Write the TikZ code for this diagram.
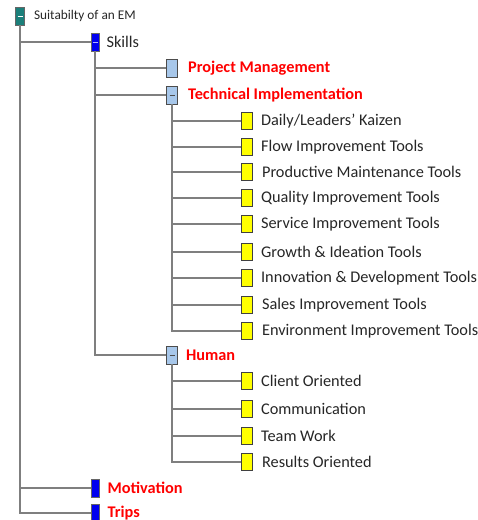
\documentclass[tikz,border=0pt]{standalone}
\usepackage{fontspec}
\setmainfont{Carlito}
\usepackage{tikz}

\definecolor{tealbox}{HTML}{1B7F7A}
\definecolor{bluebox}{HTML}{0000F0}
\definecolor{paleblue}{HTML}{A7C7EA}
\definecolor{yellowbox}{HTML}{FFFF00}
\definecolor{wire}{HTML}{7F7F7F}
\definecolor{redtext}{HTML}{FF0000}

\begin{document}
\begin{tikzpicture}[x=1pt,y=-1pt]
  \tikzstyle{box} = [draw=black!75, line width=0.8pt, inner sep=0pt, minimum width=9pt, minimum height=18pt]
  \tikzstyle{rootbox} = [box, fill=tealbox, draw=black!60]
  \tikzstyle{topic} = [box, fill=bluebox, draw=black!60, minimum width=8pt]
  \tikzstyle{group} = [box, fill=paleblue, draw=black!70, minimum width=11pt]
  \tikzstyle{leaf} = [box, fill=yellowbox, draw=black!75, minimum width=11pt, minimum height=17pt]
  \tikzstyle{minus} = [path picture={\draw[#1, line width=0.6pt]
      ([xshift=-2.5pt]path picture bounding box.center) --
      ([xshift=2.5pt]path picture bounding box.center);}]
  \tikzstyle{plain} = [text=black!85, font=\fontsize{16.3}{18}\selectfont, inner sep=0pt]
  \tikzstyle{bold} = [text=redtext, font=\fontsize{16.3}{18}\selectfont\bfseries, inner sep=0pt]
  \tikzstyle{straight} = [-, draw=wire, line width=1.4pt]

  \useasboundingbox (0,0) rectangle (478,520);

  \node[rootbox, minus=white, label={[plain, font=\fontsize{13.3}{15}\selectfont, xshift=9pt]right:Suitabilty of an EM}] (em) at (20,16) {};

  \node[topic, minus=white!70!blue, label={[plain, xshift=7pt]right:Skills}] (skills) at (95,42) {};
  \node[topic, label={[bold, xshift=8pt]right:Motivation}] (motiv) at (95,488) {};
  \node[topic, label={[bold, xshift=8pt]right:Trips}] (trips) at (95,513) {};

  \node[group, label={[bold, xshift=10pt]right:Project Management}] (pm) at (172,68) {};
  \node[group, minus=black!70, label={[bold, xshift=10pt]right:Technical Implementation}] (tech) at (172,95) {};
  \node[group, minus=black!70, label={[bold, xshift=8pt]right:Human}] (human) at (172,355) {};

  \node[leaf, label={[plain, xshift=8pt]right:Daily/Leaders’ Kaizen}] (kaizen) at (247,121) {};
  \node[leaf, label={[plain, xshift=8pt]right:Flow Improvement Tools}] (flow) at (247,147) {};
  \node[leaf, label={[plain, xshift=9pt]right:Productive Maintenance Tools}] (maint) at (247,172) {};
  \node[leaf, label={[plain, xshift=8pt]right:Quality Improvement Tools}] (quality) at (247,198) {};
  \node[leaf, label={[plain, xshift=8pt]right:Service Improvement Tools}] (service) at (247,224) {};
  \node[leaf, label={[plain, xshift=8pt]right:Growth \& Ideation Tools}] (growth) at (247,252) {};
  \node[leaf, label={[plain, xshift=8pt]right:Innovation \& Development Tools}] (innov) at (247,278) {};
  \node[leaf, label={[plain, xshift=9pt]right:Sales Improvement Tools}] (sales) at (247,305) {};
  \node[leaf, label={[plain, xshift=9pt]right:Environment Improvement Tools}] (env) at (247,331) {};

  \node[leaf, label={[plain, xshift=8pt]right:Client Oriented}] (client) at (247,381) {};
  \node[leaf, label={[plain, xshift=8pt]right:Communication}] (comm) at (247,409) {};
  \node[leaf, label={[plain, xshift=8pt]right:Team Work}] (team) at (247,436) {};
  \node[leaf, label={[plain, xshift=9pt]right:Results Oriented}] (results) at (247,462) {};

  \draw[straight] (em.south) |- (skills.west);
  \draw[straight] (em.south) |- (motiv.west);
  \draw[straight] (em.south) |- (trips.west);

  \draw[straight] (skills.south) |- (pm.west);
  \draw[straight] (skills.south) |- (tech.west);
  \draw[straight] (skills.south) |- (human.west);

  \draw[straight] (tech.south) |- (kaizen.west);
  \draw[straight] (tech.south) |- (flow.west);
  \draw[straight] (tech.south) |- (maint.west);
  \draw[straight] (tech.south) |- (quality.west);
  \draw[straight] (tech.south) |- (service.west);
  \draw[straight] (tech.south) |- (growth.west);
  \draw[straight] (tech.south) |- (innov.west);
  \draw[straight] (tech.south) |- (sales.west);
  \draw[straight] (tech.south) |- (env.west);

  \draw[straight] (human.south) |- (client.west);
  \draw[straight] (human.south) |- (comm.west);
  \draw[straight] (human.south) |- (team.west);
  \draw[straight] (human.south) |- (results.west);
\end{tikzpicture}
\end{document}
